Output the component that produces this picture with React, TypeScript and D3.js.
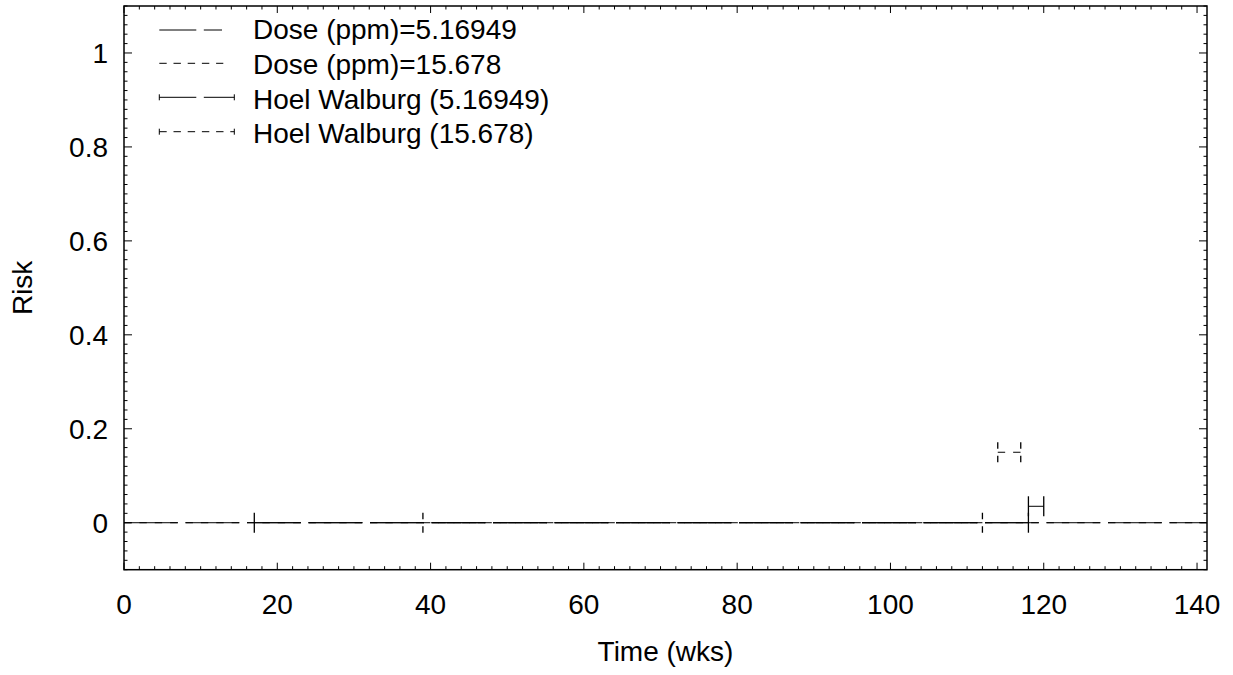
import React from "react";
import * as d3 from "d3";

// axis ranges
const timeDomain: [number, number] = [0, 141.3];
const riskDomain: [number, number] = [-0.1, 1.1];
const xTicks = [0, 20, 40, 60, 80, 100, 120, 140];
const yTicks = [0, 0.2, 0.4, 0.6, 0.8, 1];

// dose curves (risk vs time)
const doseTimes = [0, 141.3];
const dose1Risk = [0, 0];
const dose2Risk = [0, 0];

// Hoel Walburg intervals
const hoel1 = [
  { start: 17, end: 118, risk: 0 },
  { start: 118, end: 120, risk: 0.035 },
];
const hoel2 = [
  { start: 39, end: 112, risk: 0 },
  { start: 114, end: 117, risk: 0.15 },
];

const legendLabels = [
  "Dose (ppm)=5.16949",
  "Dose (ppm)=15.678",
  "Hoel Walburg (5.16949)",
  "Hoel Walburg (15.678)",
];

const W = 1233;
const H = 675;
const plot = { left: 124, right: 1207, top: 6, bottom: 569.7 };
const FONT = "Arial, 'Liberation Sans', sans-serif";
const DASH1 = [54, 7.5];
const DASH2 = [7.4, 7.975];
const DASH2_LEGEND = [7.4, 6.8];

const App: React.FC = () => {
  const x = d3.scaleLinear().domain(timeDomain).range([plot.left, plot.right]);
  const y = d3.scaleLinear().domain(riskDomain).range([plot.bottom, plot.top]);

  const line = d3
    .line<number>()
    .x((_, i) => x(doseTimes[i]))
    .y((d) => y(d));

  const xMinor = d3.range(0, timeDomain[1] + 0.001, 2);
  const yMinor = d3.range(-0.1, 1.1001, 0.02).map((v) => Math.round(v * 100) / 100);

  const drawInterval = (
    iv: { start: number; end: number; risk: number },
    dash: number[],
    key: string,
  ) => {
    const x0 = x(iv.start);
    const x1 = x(iv.end);
    const yy = y(iv.risk);
    const period = dash[0] + dash[1];
    // the long solid-series interval keeps the dash phase of the curve under it
    const offset = dash === DASH1 && x1 - x0 > period ? (x0 - x(0)) % period : 0;
    const capDash = dash === DASH2 ? "6.5,7" : undefined;
    return (
      <g key={key}>
        <line
          x1={x0}
          x2={x1}
          y1={yy}
          y2={yy}
          stroke="#000"
          strokeWidth={1}
          strokeDasharray={dash.join(",")}
          strokeDashoffset={offset}
        />
        <line x1={x0} x2={x0} y1={yy - 10} y2={yy + 10} stroke="#000" strokeWidth={1.3} strokeDasharray={capDash} />
        <line x1={x1} x2={x1} y1={yy - 10} y2={yy + 10} stroke="#000" strokeWidth={1.3} strokeDasharray={capDash} />
      </g>
    );
  };

  const legendRows = [
    { baseline: 39.3, sampleY: 30, dash: DASH1, end: 222, caps: false },
    { baseline: 74, sampleY: 63.3, dash: DASH2_LEGEND, end: 223.3, caps: false },
    { baseline: 108.7, sampleY: 97.3, dash: DASH1, end: 234.3, caps: true },
    { baseline: 143.3, sampleY: 131.7, dash: DASH2_LEGEND, end: 234.3, caps: true },
  ];

  return (
    <svg
      width={W}
      height={H}
      style={{ position: "absolute", left: 0, top: 0, background: "#fff" }}
      fontFamily={FONT}
    >
      <rect x={0} y={0} width={W} height={H} fill="#fff" />

      {/* minor and major ticks, inward on all four sides */}
      {xMinor.map((t) => {
        const major = t % 20 === 0;
        const len = major ? 7 : 3.5;
        return (
          <g key={`xm${t}`} stroke="#000" strokeWidth={1}>
            <line x1={x(t)} x2={x(t)} y1={plot.bottom} y2={plot.bottom - len} />
            <line x1={x(t)} x2={x(t)} y1={plot.top} y2={plot.top + len} />
          </g>
        );
      })}
      {yMinor.map((t) => {
        const major = Math.abs((t * 10) % 2) < 0.001;
        const len = major ? 8 : 3.5;
        return (
          <g key={`ym${t}`} stroke="#000" strokeWidth={1}>
            <line x1={plot.left} x2={plot.left + len} y1={y(t)} y2={y(t)} />
            <line x1={plot.right} x2={plot.right - len} y1={y(t)} y2={y(t)} />
          </g>
        );
      })}

      {/* frame */}
      <rect
        x={plot.left}
        y={plot.top}
        width={plot.right - plot.left}
        height={plot.bottom - plot.top}
        fill="none"
        stroke="#000"
        strokeWidth={1.5}
      />

      {/* tick labels */}
      {xTicks.map((t) => (
        <text key={`xt${t}`} x={x(t)} y={614} fontSize={28} textAnchor="middle" fill="#000">
          {t}
        </text>
      ))}
      {yTicks.map((t) => (
        <text
          key={`yt${t}`}
          x={108}
          y={y(t) + 10}
          fontSize={28}
          textAnchor="end"
          fill="#000"
        >
          {t}
        </text>
      ))}

      {/* axis titles */}
      <text x={(plot.left + plot.right) / 2} y={661} fontSize={28} textAnchor="middle" fill="#000">
        Time (wks)
      </text>
      <text
        transform={`translate(32,${(plot.top + plot.bottom) / 2}) rotate(-90)`}
        fontSize={28}
        textAnchor="middle"
        fill="#000"
      >
        Risk
      </text>

      {/* data */}
      <path d={line(dose1Risk) ?? ""} fill="none" stroke="#000" strokeWidth={1} strokeDasharray={DASH1.join(",")} />
      <path d={line(dose2Risk) ?? ""} fill="none" stroke="#000" strokeWidth={1} strokeDasharray={DASH2.join(",")} />
      {hoel1.map((iv, i) => drawInterval(iv, DASH1, `h1-${i}`))}
      {hoel2.map((iv, i) => drawInterval(iv, DASH2, `h2-${i}`))}

      {/* legend */}
      {legendRows.map((r, i) => (
        <g key={`lg${i}`}>
          <line
            x1={159.3}
            x2={r.end}
            y1={r.sampleY}
            y2={r.sampleY}
            stroke="#000"
            strokeWidth={1}
            strokeDasharray={r.dash.join(",")}
            strokeDashoffset={r.dash === DASH1 ? 17 : 0}
          />
          {r.caps && (
            <>
              <line x1={159.3} x2={159.3} y1={r.sampleY - 3} y2={r.sampleY + 3} stroke="#000" strokeWidth={1} />
              <line x1={r.end} x2={r.end} y1={r.sampleY - 3} y2={r.sampleY + 3} stroke="#000" strokeWidth={1} />
            </>
          )}
          <text x={253} y={r.baseline} fontSize={28} fill="#000">
            {legendLabels[i]}
          </text>
        </g>
      ))}
    </svg>
  );
};

export default App;
